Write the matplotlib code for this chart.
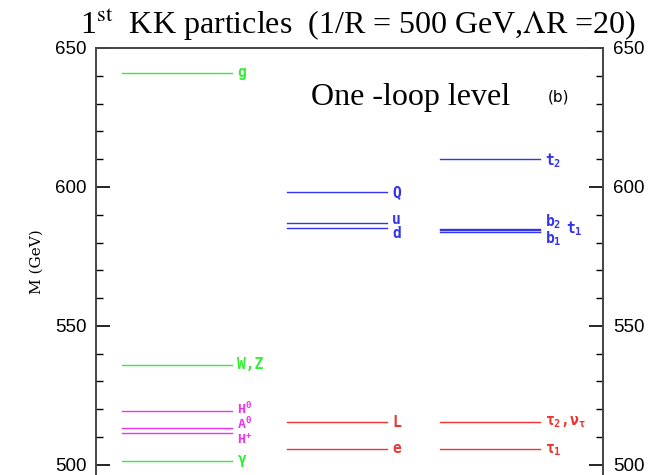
import numpy as np
import matplotlib
matplotlib.use("Agg")
from matplotlib import pyplot as plt
from matplotlib.ticker import MultipleLocator

# KK masses (GeV)
# column 0: bosons, column 1: light quarks/leptons, column 2: third generation
names = ["g", "W,Z", "H0", "A0", "H+", "gamma",
         "Q", "u", "d", "L", "e",
         "t2", "b2", "t1", "b1", "tau2", "tau1"]
masses = [641.0, 536.0, 519.4, 513.4, 511.6, 501.3,
          598.1, 586.9, 585.3, 515.4, 505.8,
          610.1, 585.0, 584.4, 583.9, 515.4, 505.8]
columns = [0, 0, 0, 0, 0, 0,
           1, 1, 1, 1, 1,
           2, 2, 2, 2, 2, 2]
colors = ["#33ee33", "#33ee33", "#ee33ee", "#ee33ee", "#ee33ee", "#33ee33",
          "#3333ee", "#3333ee", "#3333ee", "#ee3333", "#ee3333",
          "#3333ee", "#3333ee", "#3333ee", "#3333ee", "#ee3333", "#ee3333"]

col_start = [0.51, 3.77, 6.78]
col_end = [2.68, 5.74, 8.76]

# labels: (text, column, mass position, color)
labels = [("g", 0, 641.0, "#33ee33"),
          ("W,Z", 0, 536.0, "#33ee33"),
          ("H$^{0}$", 0, 520.2, "#ee33ee"),
          ("A$^{0}$", 0, 514.6, "#ee33ee"),
          ("H$^{+}$", 0, 509.0, "#ee33ee"),
          (r"$\gamma$", 0, 501.2, "#33ee33"),
          ("Q", 1, 598.1, "#3333ee"),
          ("u", 1, 588.4, "#3333ee"),
          ("d", 1, 583.4, "#3333ee"),
          ("L", 1, 515.4, "#ee3333"),
          ("e", 1, 505.8, "#ee3333"),
          ("t$_{2}$", 2, 609.4, "#3333ee"),
          ("b$_{2}$", 2, 587.6, "#3333ee"),
          ("t$_{1}$", 2, 584.9, "#3333ee"),
          ("b$_{1}$", 2, 581.4, "#3333ee"),
          (r"$\tau_{2}$,$\nu_{\tau}$", 2, 515.4, "#ee3333"),
          (r"$\tau_{1}$", 2, 505.2, "#ee3333")]
label_dx = [0, 0, 0, 0, 0, 0, 0, 0, 0, 0, 0, 0, 0, 0.42, 0, 0, 0]
label_size = [10.5, 10.5, 9.5, 9.5, 9.5, 10.5,
              10.5, 10.5, 10.5, 10.5, 10.5,
              10.5, 10.5, 10.5, 10.5, 10.5, 10.5]

plt.rcParams['mathtext.fontset'] = 'custom'
plt.rcParams['mathtext.rm'] = 'DejaVu Sans Mono:bold'
plt.rcParams['mathtext.it'] = 'DejaVu Sans Mono:bold'
plt.rcParams['mathtext.default'] = 'rm'

fig = plt.figure(figsize=(6.54, 4.75), dpi=100)
ax = fig.add_axes([0.147, -0.002, 0.775, 0.901])

for m, c, col in zip(masses, columns, colors):
    ax.plot([col_start[c], col_end[c]], [m, m], color=col, lw=1.0)

for (txt, c, m, col), dx, fs in zip(labels, label_dx, label_size):
    ax.text(col_end[c] + 0.1 + dx, m, txt, color=col, fontsize=fs,
            family='DejaVu Sans Mono', weight='bold', va='center', ha='left')

ax.set_xlim(0, 10)
ax.set_ylim(496, 650)
ax.set_xticks([])
ax.yaxis.set_major_locator(MultipleLocator(50))
ax.yaxis.set_minor_locator(MultipleLocator(10))
ax.tick_params(axis='y', which='both', direction='in', left=True, right=True,
               labelleft=True, labelright=True, labelsize=13.5, pad=7)
ax.tick_params(axis='y', which='major', length=10, width=1.2)
ax.tick_params(axis='y', which='minor', length=5, width=1.0)
for s in ax.spines.values():
    s.set_color('#444444')
    s.set_linewidth(1.4)
for lab in ax.get_yticklabels():
    lab.set_fontfamily('Liberation Sans')

ax.set_ylabel("M (GeV)", fontsize=11, family='DejaVu Serif', labelpad=8)

fig.text(0.548, 0.951, "1$^{\\mathrm{st}}$  KK particles  (1/R = 500 GeV,$\\Lambda$R =20)",
         ha='center', va='center', fontsize=23, family='Liberation Serif',
         math_fontfamily='stix')
ax.text(6.21, 0.885, "One -loop level", transform=ax.get_xaxis_transform(),
        ha='center', va='center', fontsize=23, family='Liberation Serif')
ax.text(9.12, 0.885, "(b)", transform=ax.get_xaxis_transform(),
        ha='center', va='center', fontsize=11, family='DejaVu Sans')

fig.savefig("out.png", dpi=100)
